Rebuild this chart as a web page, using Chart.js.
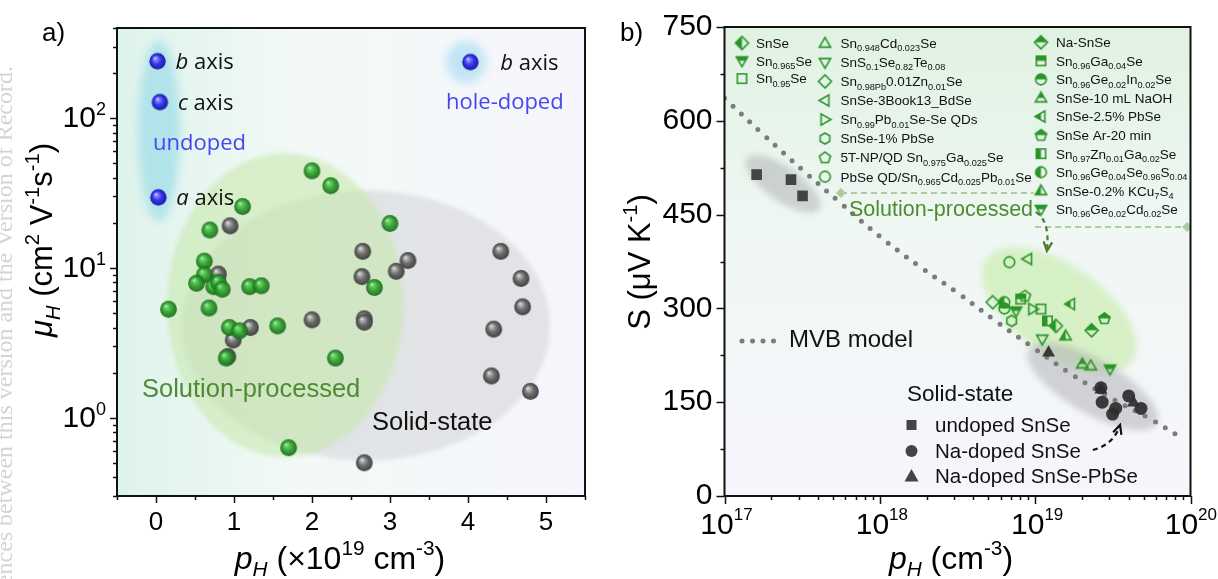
<!DOCTYPE html>
<html><head><meta charset="utf-8">
<script src="https://cdn.jsdelivr.net/npm/chart.js@4.4.1/dist/chart.umd.min.js"></script>
<style>
html,body{margin:0;padding:0;background:#fff;}
#wrap{position:relative;width:1218px;height:579px;overflow:hidden;background:#fff;}
canvas{position:absolute;top:0;}
#ca{left:0;} #cb{left:600px;}
</style></head>
<body><div id="wrap"><canvas id="ca" width="600" height="579"></canvas><canvas id="cb" width="618" height="579"></canvas></div>
<script>
// ---------------- DATA : panel a ----------------
const aSolX = [2.00,2.24,1.11,0.69,0.62,0.62,0.52,0.74,0.80,0.85,1.20,1.35,0.16,0.68,0.94,1.07,1.56,0.90,2.30,1.70,3.00,2.80];
const aSolY = [44.5,35.4,25.7,17.9,11.1,9.0,7.9,7.5,8.0,7.2,7.5,7.6,5.3,5.4,4.0,3.8,4.1,2.5,2.5,0.63,19.8,7.4];
const aSsX  = [0.95,0.80,1.21,0.99,0.92,2.00,2.65,3.23,3.08,2.64,2.67,2.67,4.42,4.68,4.70,4.33,4.30,4.80,2.67];
const aSsY  = [19.1,9.1,4.0,3.3,2.56,4.5,12.9,11.2,9.5,8.75,4.57,4.34,12.9,8.5,5.5,3.9,1.9,1.5,0.50];
const aUndX = [0.02,0.05,0.03];
const aUndY = [240,128,29.6];
const aUndLabels = ["*b* axis","*c* axis","*a* axis"];
const aHoleX = [4.03];
const aHoleY = [237];
const aHoleLabels = ["*b* axis"];
const aXTickLabels = [0,1,2,3,4,5];
const aYTickExps = [0,1,2];

// ---------------- DATA : panel b ----------------
const bLabels = ["SnSe","Sn_{0.965}Se","Sn_{0.95}Se","Sn_{0.948}Cd_{0.023}Se","SnS_{0.1}Se_{0.82}Te_{0.08}",
 "Sn_{0.98Pb}0.01Zn_{0.01}Se","SnSe-3Book13_BdSe","Sn_{0.99}Pb_{0.01}Se-Se QDs","SnSe-1% PbSe",
 "5T-NP/QD Sn_{0.975}Ga_{0.025}Se","PbSe QD/Sn_{0.965}Cd_{0.025}Pb_{0.01}Se","Na-SnSe","Sn_{0.96}Ga_{0.04}Se",
 "Sn_{0.96}Ge_{0.02}In_{0.02}Se","SnSe-10 mL NaOH","SnSe-2.5% PbSe","SnSe Ar-20 min","Sn_{0.97}Zn_{0.01}Ga_{0.02}Se",
 "Sn_{0.96}Ge_{0.04}Se_{0.96}S_{0.04}","SnSe-0.2% KCu_{7}S_{4}","Sn_{0.96}Ge_{0.02}Cd_{0.02}Se"];
const bSolP = [1.36e19,7.53e18,1.09e19,2.28e19,1.11e19,5.33e18,8.95e18,9.64e18,7.06e18,8.6e18,6.82e18,
               2.31e19,8.07e18,6.33e18,2.01e19,1.69e19,2.79e19,1.2e19,6.33e18,1.57e19,3.03e19];
const bSolS = [272,296,299,208,251,310,379,299,280,320,374,265,315,300,211,307,284,280,310,256,203];
const bUndP = [1.61e17,2.68e17,3.18e17];
const bUndS = [514,506,480];
const bNaP  = [2.65e19,2.7e19,3.15e19,3.3e19,4.0e19,4.8e19];
const bNaS  = [173,150,131,140,160,140];
const bPbP  = [1.22e19,2.65e19,4.3e19];
const bPbS  = [229,170,149];
const mvbP  = [1e17,1.78e17,3.16e17,5.62e17,1e18,1.78e18,3.16e18,5.62e18,1e19,1.78e19,3.16e19,5.62e19,8.9e19];
const mvbS  = [636,578,522,468,415,368,325,279,235,192,155,122,92];
const bSSLabels = ["undoped SnSe","Na-doped SnSe","Na-doped SnSe-PbSe"];
const bXTickExps = [17,18,19,20];
const bYTickLabels = [0,150,300,450,600,750];

// ---------------- styles ----------------
const FONT = "'Liberation Sans', Arial, Helvetica, sans-serif";
const FONT2 = "'Open Sans', 'Liberation Sans', sans-serif";
const GREEN = '#2a962a';
const bShape = ['diamond','tri-down','square','tri-up','tri-down','diamond','tri-left','tri-right','hex','pent','circle',
                'diamond','square','circle','tri-up','tri-left','pent','square','circle','tri-up','tri-down'];
const bFill  = ['left','top','open','open','open','open','open','open','open','open','open',
                'top','top','top','top','left','top','left','left','left','top'];

function zip(a,b){return a.map((v,i)=>({x:v,y:b[i]}));}
function rgba(c,a){return 'rgba('+c[0]+','+c[1]+','+c[2]+','+a+')';}
function sphere(r,hi,mid,lo,alpha){
  const s=Math.ceil(2*r+2);const c=document.createElement('canvas');c.width=c.height=s;
  const g=c.getContext('2d');const cx=s/2,cy=s/2;
  const gr=g.createRadialGradient(cx-r*0.32,cy-r*0.4,0,cx,cy,r);
  gr.addColorStop(0,'rgba(255,255,255,'+alpha+')');
  gr.addColorStop(0.14,rgba(hi,alpha));gr.addColorStop(0.55,rgba(mid,alpha));gr.addColorStop(1,rgba(lo,alpha));
  g.fillStyle=gr;g.beginPath();g.arc(cx,cy,r,0,Math.PI*2);g.fill();return c;
}
function poly(g,n,cx,cy,r,start){
  for(let i=0;i<n;i++){const a=(start+i*360/n)*Math.PI/180;const x=cx+r*Math.cos(a),y=cy+r*Math.sin(a);i?g.lineTo(x,y):g.moveTo(x,y);}
  g.closePath();
}
function shapePath(g,shape,cx,cy,r){
  g.beginPath();
  switch(shape){
    case 'circle':g.arc(cx,cy,r*0.82,0,Math.PI*2);break;
    case 'square':g.rect(cx-r*0.72,cy-r*0.72,r*1.44,r*1.44);break;
    case 'diamond':poly(g,4,cx,cy,r,-90);break;
    case 'tri-up':poly(g,3,cx,cy+r*0.1,r,-90);break;
    case 'tri-down':poly(g,3,cx,cy-r*0.1,r,90);break;
    case 'tri-left':poly(g,3,cx+r*0.1,cy,r,180);break;
    case 'tri-right':poly(g,3,cx-r*0.1,cy,r,0);break;
    case 'pent':poly(g,5,cx,cy+r*0.05,r*0.9,-90);break;
    case 'hex':poly(g,6,cx,cy,r*0.85,-90);break;
  }
}
function marker(shape,fill,r,color){
  const s=Math.ceil(2*r+4);const c=document.createElement('canvas');c.width=c.height=s;
  const g=c.getContext('2d');const cx=s/2,cy=s/2;
  g.lineWidth=1.6;g.strokeStyle=color;g.fillStyle=color;g.lineJoin='miter';
  if(fill==='full'){shapePath(g,shape,cx,cy,r);g.fill();}
  else if(fill!=='open'){
    g.save();g.beginPath();
    if(fill==='top')g.rect(0,0,s,cy);else if(fill==='left')g.rect(0,0,cx,s);else if(fill==='right')g.rect(cx,0,s,s);else g.rect(0,cy,s,s);
    g.clip();shapePath(g,shape,cx,cy,r);g.fill();g.restore();
  }
  shapePath(g,shape,cx,cy,r);g.stroke();return c;
}
function parseRich(s){
  const re=/_\{([^}]*)\}|\^\{([^}]*)\}|~\{([^}]*)\}|\*([^*]+)\*/g;let m,last=0;const out=[];
  while((m=re.exec(s))){
    if(m.index>last)out.push({t:'n',s:s.slice(last,m.index)});
    if(m[1]!==undefined)out.push({t:'sub',s:m[1]});
    else if(m[2]!==undefined)out.push({t:'sup',s:m[2]});
    else if(m[3]!==undefined)out.push({t:'sub',s:m[3],i:true});
    else out.push({t:'n',s:m[4],i:true});
    last=re.lastIndex;
  }
  if(last<s.length)out.push({t:'n',s:s.slice(last)});return out;
}
function rich(ctx,s,x,y,size,o){
  o=o||{};const fam=o.family||FONT;const parts=parseRich(s);let w=0;const items=[];
  const sr=o.sr||0.65;
  for(const p of parts){
    const sz=p.t==='n'?size:size*sr;const font=(p.i?'italic ':'')+sz+'px '+fam;
    ctx.font=font;const pw=ctx.measureText(p.s).width;
    items.push({s:p.s,font,pw,dy:p.t==='sub'?size*0.24:p.t==='sup'?-size*0.42:0});w+=pw;
  }
  let cx=o.align==='center'?x-w/2:o.align==='right'?x-w:x;const base=y+size*0.36;
  ctx.fillStyle=o.color||'#000';ctx.textBaseline='alphabetic';ctx.textAlign='left';
  for(const it of items){ctx.font=it.font;ctx.fillText(it.s,cx,base+it.dy);cx+=it.pw;}
  return w;
}
function ellipse(ctx,cx,cy,rx,ry,rot,color,blur){
  ctx.save();if(blur)ctx.filter='blur('+blur+'px)';ctx.fillStyle=color;ctx.beginPath();
  ctx.ellipse(cx,cy,rx,ry,rot*Math.PI/180,0,Math.PI*2);ctx.fill();ctx.restore();
}
function pix(chart,x,y){return [chart.scales.x.getPixelForValue(x),chart.scales.y.getPixelForValue(y)];}
function logMinor(lo,hi){const v=[];for(let e=Math.floor(Math.log10(lo));e<=Math.ceil(Math.log10(hi));e++){for(let k=2;k<=9;k++){const t=k*Math.pow(10,e);if(t>=lo*0.999&&t<=hi*1.001)v.push(t);}}return v;}
function dashedArrow(ctx,p0,pc,p1,color){
  ctx.save();ctx.strokeStyle=color;ctx.fillStyle=color;ctx.lineWidth=2.2;ctx.setLineDash([5,4]);
  ctx.beginPath();ctx.moveTo(p0[0],p0[1]);ctx.quadraticCurveTo(pc[0],pc[1],p1[0],p1[1]);ctx.stroke();
  ctx.setLineDash([]);const a=Math.atan2(p1[1]-pc[1],p1[0]-pc[0]);const L=10;
  ctx.beginPath();ctx.moveTo(p1[0]-L*Math.cos(a-0.45),p1[1]-L*Math.sin(a-0.45));ctx.lineTo(p1[0],p1[1]);
  ctx.lineTo(p1[0]-L*Math.cos(a+0.45),p1[1]-L*Math.sin(a+0.45));ctx.lineWidth=2.2;ctx.stroke();ctx.restore();
}
function frameBox(ctx,ca){ctx.save();ctx.strokeStyle='#111';ctx.lineWidth=2;ctx.strokeRect(ca.left,ca.top,ca.right-ca.left,ca.bottom-ca.top);ctx.restore();}
function ticksX(ctx,chart,vals,len){const s=chart.scales.x,b=chart.chartArea.bottom;ctx.beginPath();vals.forEach(v=>{const x=Math.round(s.getPixelForValue(v))+0.5;ctx.moveTo(x,b);ctx.lineTo(x,b+len);});ctx.stroke();}
function ticksY(ctx,chart,vals,len){const s=chart.scales.y,l=chart.chartArea.left;ctx.beginPath();vals.forEach(v=>{const y=Math.round(s.getPixelForValue(v))+0.5;ctx.moveTo(l,y);ctx.lineTo(l-len,y);});ctx.stroke();}

const sphG=sphere(8.4,[110,215,110],[45,160,45],[25,105,25],0.92);
const sphK=sphere(8.4,[190,190,190],[105,105,105],[60,60,60],0.97);
const sphB=sphere(8.2,[150,150,255],[55,55,240],[25,25,160],1);

// ---------------- panel a ----------------
const plugA={id:'pa',
  beforeDatasetsDraw(chart){
    const ctx=chart.ctx,ca=chart.chartArea;ctx.save();
    const g=ctx.createLinearGradient(ca.left,0,ca.right,0);
    g.addColorStop(0,'rgb(222,243,235)');g.addColorStop(0.38,'rgb(242,249,247)');g.addColorStop(1,'rgb(246,246,252)');
    ctx.fillStyle=g;ctx.fillRect(ca.left,ca.top,ca.right-ca.left,ca.bottom-ca.top);
    ctx.beginPath();ctx.rect(ca.left,ca.top,ca.right-ca.left,ca.bottom-ca.top);ctx.clip();
    let p=pix(chart,2.692,4.12);ellipse(ctx,p[0],p[1],184,135,0,'rgba(200,200,206,0.42)',2);
    p=pix(chart,1.654,5.65);ellipse(ctx,p[0],p[1],118,152,0,'rgba(196,232,168,0.55)',2);
    p=pix(chart,0.038,82.3);ellipse(ctx,p[0],p[1],21,90,0,'rgba(160,222,232,0.75)',4);
    p=pix(chart,3.974,237);ellipse(ctx,p[0],p[1],20,21,0,'rgba(185,226,245,0.85)',4);
    ctx.restore();
  },
  afterDraw(chart){
    const ctx=chart.ctx,ca=chart.chartArea;ctx.save();
    frameBox(ctx,ca);
    ctx.strokeStyle='#111';ctx.lineWidth=1.5;
    ticksX(ctx,chart,aXTickLabels,7);
    const half=[];for(let v=-0.5;v<=5.5;v+=1)half.push(v);ticksX(ctx,chart,half,4);
    ticksY(ctx,chart,aYTickExps.map(e=>Math.pow(10,e)),7);
    ticksY(ctx,chart,logMinor(0.3,400),4);
    aYTickExps.forEach(e=>{const y=chart.scales.y.getPixelForValue(Math.pow(10,e));
      ctx.font='18px '+FONT;const ws=ctx.measureText(String(e)).width;const xr=106;
      ctx.textBaseline='middle';ctx.textAlign='right';ctx.fillStyle='#000';ctx.fillText(String(e),xr,y-8);
      ctx.font='30px '+FONT;ctx.fillText('10',xr-ws,y+1);});
    ctx.save();ctx.translate(41,240);ctx.rotate(-Math.PI/2);
    rich(ctx,'*μ*~{H} (cm^{2} V^{-1}s^{-1})',0,0,31,{align:'center'});ctx.restore();
    rich(ctx,'*p*~{H} (×10^{19} cm^{-3})',340,557,32,{align:'center'});
    rich(ctx,'a)',42,32,26);
    const lab=(arrX,arrY,labels)=>labels.forEach((t,i)=>{const p=pix(chart,arrX[i],arrY[i]);rich(ctx,t,p[0]+18,p[1],22,{family:FONT2,color:'#111'});});
    lab(aUndX,aUndY,aUndLabels);
    const ph=pix(chart,aHoleX[0],aHoleY[0]);rich(ctx,aHoleLabels[0],ph[0]+30,ph[1],22,{family:FONT2,color:'#111'});
    rich(ctx,'undoped',153,142,22,{family:FONT2,color:'#4646ee'});
    rich(ctx,'hole-doped',446,101,22,{family:FONT2,color:'#4646ee'});
    rich(ctx,'Solution-processed',142,388,25.5,{color:'#4e8c34'});
    rich(ctx,'Solid-state',372,421,25.5,{color:'#111'});
    // watermark of the source page
    ctx.save();ctx.translate(6,66);ctx.rotate(-Math.PI/2);ctx.font='24px "Liberation Serif", serif';ctx.fillStyle='#d4d4d4';
    ctx.textAlign='right';ctx.textBaseline='middle';ctx.fillText('which may lead to differences between this version and the Version of Record.',0,0);ctx.restore();
    ctx.restore();
  }
};
new Chart(document.getElementById('ca'),{
  type:'scatter',
  data:{datasets:[
    {label:'undoped',data:zip(aUndX,aUndY),pointStyle:sphB,pointRadius:8,order:0},
    {label:'hole-doped',data:zip(aHoleX,aHoleY),pointStyle:sphB,pointRadius:8,order:0},
    {label:'Solution-processed',data:zip(aSolX,aSolY),pointStyle:sphG,pointRadius:8,order:1},
    {label:'Solid-state',data:zip(aSsX,aSsY),pointStyle:sphK,pointRadius:8,order:2}
  ]},
  options:{responsive:false,animation:false,events:[],
    layout:{padding:{left:0,top:28,right:15,bottom:0}},
    plugins:{legend:{display:false},tooltip:{enabled:false}},
    scales:{
      x:{type:'linear',min:-0.5,max:5.5,grid:{display:false,drawTicks:true,tickLength:7},border:{display:false},
        ticks:{stepSize:0.5,autoSkip:false,maxRotation:0,padding:4,color:'#000',font:{family:FONT,size:26},
          callback:v=>aXTickLabels.includes(v)?String(v):''},afterFit:s=>{s.height=83;}},
      y:{type:'logarithmic',min:0.3,max:400,grid:{display:false},border:{display:false},
        ticks:{autoSkip:false,callback:()=>''},afterFit:s=>{s.width=117;}}
    }},
  plugins:[plugA]
});

// ---------------- panel b ----------------
const bMk=bShape.map((s,i)=>marker(s,bFill[i],6.5,GREEN));
const plugB={id:'pb',
  beforeDatasetsDraw(chart){
    const ctx=chart.ctx,ca=chart.chartArea;ctx.save();
    const g=ctx.createLinearGradient(0,ca.top,0,ca.bottom);
    g.addColorStop(0,'rgb(224,242,226)');g.addColorStop(0.45,'rgb(240,247,244)');g.addColorStop(1,'rgb(246,246,252)');
    ctx.fillStyle=g;ctx.fillRect(ca.left,ca.top,ca.right-ca.left,ca.bottom-ca.top);
    ctx.beginPath();ctx.rect(ca.left,ca.top,ca.right-ca.left,ca.bottom-ca.top);ctx.clip();
    let p=pix(chart,2.38e17,499);ellipse(ctx,p[0],p[1],44,17,35,'rgba(165,165,170,0.45)',3);
    p=pix(chart,1.424e19,297);ellipse(ctx,p[0],p[1],89,45,35,'rgba(200,236,170,0.65)',3);
    p=pix(chart,2.35e19,175);ellipse(ctx,p[0],p[1],74,27,30,'rgba(165,165,170,0.45)',3);
    ctx.strokeStyle='rgba(165,200,150,0.9)';ctx.fillStyle='rgba(170,205,155,1)';ctx.lineWidth=2;ctx.setLineDash([6,4]);
    let a=pix(chart,5.62e17,484.5),b=pix(chart,9.77e18,484.5);
    ctx.beginPath();ctx.moveTo(a[0],a[1]);ctx.lineTo(b[0],b[1]);ctx.stroke();
    let c=pix(chart,1.0e19,430),d=pix(chart,9.5e19,430);
    ctx.beginPath();ctx.moveTo(c[0],c[1]);ctx.lineTo(d[0],d[1]);ctx.stroke();ctx.setLineDash([]);
    [[a[0],a[1]],[d[0],d[1]]].forEach(q=>{ctx.beginPath();poly(ctx,4,q[0],q[1],5,-90);ctx.fill();});
    ctx.restore();
  },
  afterDraw(chart){
    const ctx=chart.ctx,ca=chart.chartArea;ctx.save();
    frameBox(ctx,ca);
    ctx.strokeStyle='#111';ctx.lineWidth=1.5;
    ticksY(ctx,chart,bYTickLabels,8);
    ticksY(ctx,chart,bYTickLabels.slice(0,-1).map(v=>v+75),4);
    ticksX(ctx,chart,bXTickExps.map(e=>Math.pow(10,e)),8);
    ticksX(ctx,chart,logMinor(1e17,1e20),4);
    bXTickExps.forEach(e=>{const x=chart.scales.x.getPixelForValue(Math.pow(10,e));
      ctx.font='30px '+FONT;const w1=ctx.measureText('10').width;ctx.font='17px '+FONT;const w2=ctx.measureText(String(e)).width;
      const x0=Math.min(x-(w1+w2)/2+2,618-w1-w2-1);ctx.textBaseline='middle';ctx.textAlign='left';ctx.fillStyle='#000';
      ctx.font='30px '+FONT;ctx.fillText('10',x0,526);ctx.font='17px '+FONT;ctx.fillText(String(e),x0+w1,515);});
    ctx.save();ctx.translate(39,262);ctx.rotate(-Math.PI/2);
    rich(ctx,'S (μV K^{-1})',0,0,31,{align:'center'});ctx.restore();
    rich(ctx,'*p*~{H} (cm^{-3})',351,557,32,{align:'center'});
    rich(ctx,'b)',20,32,26);
    const col=(idx,mx,tx,y0,dy)=>idx.forEach((k,i)=>{const y=y0+i*dy;const m=bMk[k];ctx.drawImage(m,mx-m.width/2,y-m.height/2);
      rich(ctx,bLabels[k],tx,y,13.5,{color:'#111',sr:0.68});});
    col([0,1,2],142,156,43,17.8);
    col([3,4,5,6,7,8,9,10],225,240.5,43.3,19.05);
    col([11,12,13,14,15,16,17,18,19,20],441,456,42.3,18.56);
    rich(ctx,'Solution-processed',249,208,21.5,{color:'#4e8c34'});
    ctx.save();ctx.strokeStyle='#7c7c7c';ctx.lineWidth=5;ctx.lineCap='round';ctx.setLineDash([0,10.5]);
    ctx.beginPath();ctx.moveTo(142,341);ctx.lineTo(175,341);ctx.stroke();ctx.restore();
    rich(ctx,'MVB model',189,338,24,{color:'#111'});
    rich(ctx,'Solid-state',307,393,22.5,{color:'#111'});
    ctx.fillStyle='#444';
    ctx.fillRect(311.5-5,425-5,10,10);
    ctx.beginPath();ctx.arc(311.5,451,6,0,Math.PI*2);ctx.fill();
    ctx.beginPath();ctx.moveTo(311.5,469);ctx.lineTo(318.5,481.5);ctx.lineTo(304.5,481.5);ctx.closePath();ctx.fill();
    [425,450.7,475.7].forEach((y,i)=>rich(ctx,bSSLabels[i],335,y,20.5,{color:'#111'}));
    dashedArrow(ctx,pix(chart,1.01e19,454),pix(chart,1.25e19,440),pix(chart,1.19e19,392),'#4a7a2a');
    dashedArrow(ctx,pix(chart,2.35e19,73.6),pix(chart,3.2e19,82),pix(chart,3.52e19,113.5),'#111');
    ctx.restore();
  }
};
const bDatasets=[];
bLabels.forEach((l,i)=>bDatasets.push({label:l,data:[{x:bSolP[i],y:bSolS[i]}],pointStyle:bMk[i],pointRadius:7,order:1}));
bDatasets.push({label:bSSLabels[0],data:zip(bUndP,bUndS),pointStyle:'rect',pointRadius:7.5,backgroundColor:'#444',borderColor:'#444',borderWidth:0,order:2});
bDatasets.push({label:bSSLabels[1],data:zip(bNaP,bNaS),pointStyle:'circle',pointRadius:6.5,backgroundColor:'rgba(45,45,45,0.92)',borderWidth:0,order:2});
bDatasets.push({label:bSSLabels[2],data:zip(bPbP,bPbS),pointStyle:'triangle',pointRadius:7.5,backgroundColor:'rgba(45,45,45,0.92)',borderWidth:0,order:2});
bDatasets.push({type:'line',label:'MVB model',data:zip(mvbP,mvbS),borderColor:'#7c7c7c',borderWidth:5,borderDash:[0,11.5],borderCapStyle:'round',pointRadius:0,tension:0.4,fill:false,order:5});
new Chart(document.getElementById('cb'),{
  type:'scatter',
  data:{datasets:bDatasets},
  options:{responsive:false,animation:false,events:[],
    layout:{padding:{left:0,top:27,right:27.5,bottom:0}},
    plugins:{legend:{display:false},tooltip:{enabled:false}},
    scales:{
      x:{type:'logarithmic',min:1e17,max:1e20,grid:{display:false},border:{display:false},
        ticks:{autoSkip:false,callback:()=>''},afterFit:s=>{s.height=83;}},
      y:{type:'linear',min:0,max:750,grid:{display:false,drawTicks:true,tickLength:8},border:{display:false},
        ticks:{stepSize:75,autoSkip:false,padding:4,color:'#000',font:{family:FONT,size:30},
          callback:v=>bYTickLabels.includes(v)?String(v):''},afterFit:s=>{s.width=124.5;}}
    }},
  plugins:[plugB]
});
</script></body></html>
